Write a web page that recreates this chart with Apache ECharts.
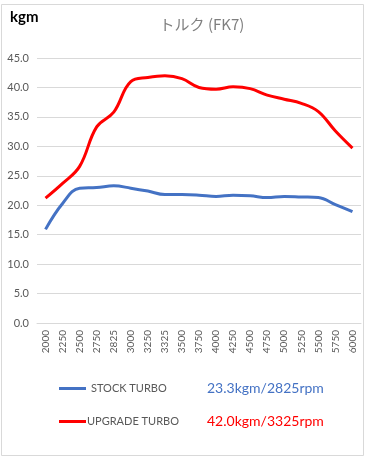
<!DOCTYPE html>
<html><head><meta charset="utf-8">
<script src="https://cdn.jsdelivr.net/npm/echarts@6/dist/echarts.min.js"></script>
<style>html,body{margin:0;padding:0;background:#fff}#c{width:368px;height:459px}</style>
</head><body><div id="c"></div>
<script>
const categories = ['2000','2250','2500','2750','2825','3000','3250','3325','3500','3750','4000','4250','4500','4750','5000','5250','5500','5750','6000'];
const stockTurbo = [15.9,20.3,22.9,23.0,23.3,22.9,22.4,21.8,21.8,21.7,21.5,21.7,21.6,21.3,21.5,21.4,21.3,20.1,18.9];
const upgradeTurbo = [21.2,23.7,26.6,33.3,35.8,41.0,41.7,42.0,41.5,40.0,39.7,40.1,39.8,38.7,38.0,37.3,35.9,32.6,29.7];
const seriesNames = ['STOCK TURBO','UPGRADE TURBO'];
const yTicks = [0,5,10,15,20,25,30,35,40,45];

function peak(arr){let m=0;arr.forEach((v,i)=>{if(v>arr[m])m=i;});return arr[m].toFixed(1)+'kgm/'+categories[m]+'rpm';}
const F = 'Lato, "Open Sans", sans-serif';
const chart = echarts.init(document.getElementById('c'));
chart.setOption({
  animation:false,
  backgroundColor:'#fff',
  title:{text:'トルク (FK7)',left:197,textAlign:'center',top:12,textStyle:{color:'#7f7f7f',fontSize:15,fontWeight:'normal',fontFamily:'"Noto Sans CJK JP", '+F}},
  grid:{left:37,right:7,top:58,bottom:136},
  xAxis:{type:'category',data:categories,boundaryGap:true,
    axisLine:{lineStyle:{color:'#d9d9d9'}},axisTick:{show:false},
    axisLabel:{rotate:90,color:'#595959',fontSize:10,fontFamily:F,margin:7,interval:0}},
  yAxis:{type:'value',min:yTicks[0],max:yTicks[yTicks.length-1],interval:5,
    axisLine:{show:false},axisTick:{show:false},
    splitLine:{lineStyle:{color:'#d9d9d9',width:1}},
    axisLabel:{color:'#595959',fontSize:11,fontFamily:F,margin:8,formatter:v=>v.toFixed(1)}},
  legend:[
    {data:[seriesNames[0]],left:59,top:383,icon:'rect',itemWidth:27,itemHeight:3,itemGap:0,padding:0,textStyle:{color:'#595959',fontSize:11,fontFamily:F,padding:[0,0,0,0]}},
    {data:[seriesNames[1]],left:59,top:416,icon:'rect',itemWidth:27,itemHeight:3,itemGap:0,padding:0,textStyle:{color:'#595959',fontSize:11,fontFamily:F,padding:[0,0,0,-4]}}
  ],
  graphic:[
    {type:'rect',shape:{x:1.5,y:4.5,width:362,height:451},style:{fill:'none',stroke:'#d9d9d9',lineWidth:1},silent:true},
    {type:'text',left:10,top:10,style:{text:'kgm',font:'bold 15px '+F,fill:'#000'}},
    {type:'text',left:207,top:381,style:{text:peak(stockTurbo),font:'14px '+F,fill:'#4472c4'}},
    {type:'text',left:207,top:414,style:{text:peak(upgradeTurbo),font:'14px '+F,fill:'#ff0000'}}
  ],
  series:[
    {name:seriesNames[0],type:'line',data:stockTurbo,smooth:0.4,showSymbol:false,lineStyle:{color:'#4472c4',width:3},itemStyle:{color:'#4472c4'}},
    {name:seriesNames[1],type:'line',data:upgradeTurbo,smooth:0.4,showSymbol:false,lineStyle:{color:'#ff0000',width:3},itemStyle:{color:'#ff0000'}}
  ]
});
</script></body></html>
